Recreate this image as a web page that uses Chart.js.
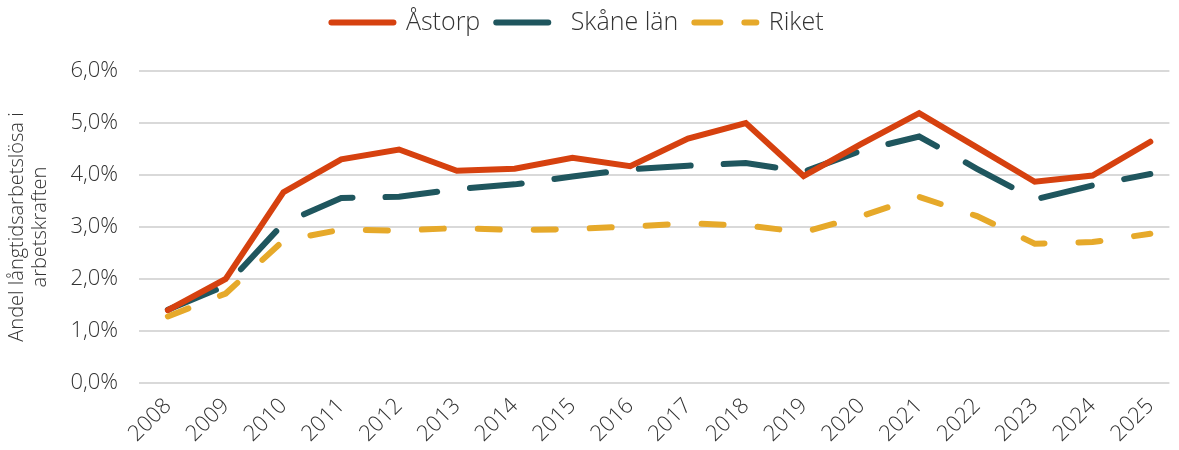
<!DOCTYPE html>
<html>
<head>
<meta charset="utf-8">
<script src="https://cdn.jsdelivr.net/npm/chart.js@4"></script>
<style>
  html, body { margin: 0; padding: 0; background: #fff; }
  #wrap { width: 1179px; height: 450px; position: relative; }
</style>
</head>
<body>
<div id="wrap"><canvas id="myChart"></canvas></div>
<script>
var years = [2008, 2009, 2010, 2011, 2012, 2013, 2014, 2015, 2016,
  2017, 2018, 2019, 2020, 2021, 2022, 2023, 2024, 2025]
var astorp = [1.40, 2.00, 3.67, 4.30, 4.49, 4.08, 4.12, 4.33, 4.17,
  4.70, 5.00, 3.98, 4.60, 5.19, 4.53, 3.87, 3.99, 4.64]
var skane = [1.41, 1.87, 3.07, 3.56, 3.58, 3.73, 3.82, 3.97, 4.11,
  4.18, 4.23, 4.06, 4.47, 4.74, 4.12, 3.53, 3.80, 4.02]
var riket = [1.28, 1.72, 2.74, 2.95, 2.93, 2.98, 2.94, 2.96, 3.01,
  3.07, 3.03, 2.90, 3.21, 3.58, 3.21, 2.68, 2.71, 2.87]
var yTicks = [0, 1, 2, 3, 4, 5, 6]

var fontName = '"Open Sans", Lato, sans-serif'
var textColor = '#333333'
// dash pattern of each legend sample
var legendDash = [[], [52, 33], [26, 24]]

function toPoints(values) {
    return years.map(function (yr, i) { return { x: yr, y: values[i] } })
}

// fixed legend height so the plot starts where it should, and nudge it left a bit
var legendHeight = {
    id: 'legendHeight',
    afterInit: function (chart) {
        var lg = chart.legend
        if (!lg) return
        var origFit = lg.fit
        lg.fit = function () {
            origFit.call(lg)
            lg.height = 77
        }
    },
    afterLayout: function (chart) {
        if (chart.legend) chart.legend.right -= 28
    }
}

document.addEventListener("DOMContentLoaded", function () {
    initChart()
})

function initChart() {
    const data = {
        datasets: [
            {
                label: 'Åstorp',
                data: toPoints(astorp),
                borderColor: '#d6410f',
                backgroundColor: '#d6410f',
                borderWidth: 6,
                borderCapStyle: 'round',
                borderJoinStyle: 'miter',
                pointRadius: 0,
                tension: 0
            },
            {
                label: 'Skåne län',
                data: toPoints(skane),
                borderColor: '#1f565e',
                backgroundColor: '#1f565e',
                borderWidth: 6,
                borderDash: [52, 33],
                borderCapStyle: 'round',
                pointRadius: 0,
                tension: 0
            },
            {
                label: 'Riket',
                data: toPoints(riket),
                borderColor: '#e6a92a',
                backgroundColor: '#e6a92a',
                borderWidth: 6,
                borderDash: [22, 34],
                borderCapStyle: 'round',
                pointRadius: 0,
                tension: 0
            }
        ]
    }

    const options = {
        responsive: false,
        animation: false,
        layout: { padding: { left: 4, right: 0, top: -6, bottom: 0 } },
        plugins: {
            legend: {
                position: 'top',
                labels: {
                    usePointStyle: true,
                    pointStyle: 'line',
                    pointStyleWidth: 62,
                    boxWidth: 62,
                    boxHeight: 6,
                    padding: 16,
                    color: textColor,
                    font: { family: fontName, size: 25, weight: 300 },
                    generateLabels: function (chart) {
                        var items = Chart.defaults.plugins.legend.labels.generateLabels(chart)
                        items.forEach(function (it, i) {
                            it.lineDash = legendDash[i]
                            it.lineCap = 'round'
                            it.pointStyle = 'line'
                        })
                        return items
                    }
                }
            },
            tooltip: { enabled: false }
        },
        scales: {
            x: {
                type: 'linear',
                min: 2007.5,
                max: 2025.33,
                afterBuildTicks: function (axis) {
                    axis.ticks = years.map(function (v) { return { value: v } })
                },
                afterFit: function (axis) { axis.height = 67 },
                grid: { display: false, drawTicks: false },
                border: { display: false },
                ticks: {
                    color: textColor,
                    minRotation: 45,
                    maxRotation: 45,
                    autoSkip: false,
                    padding: 10,
                    font: { family: fontName, size: 22, weight: 300 },
                    callback: function (v) { return String(v) }
                }
            },
            y: {
                min: 0,
                max: 6,
                afterBuildTicks: function (axis) {
                    axis.ticks = yTicks.map(function (v) { return { value: v } })
                },
                afterFit: function (axis) { axis.width = 135 },
                grid: { color: '#d9d9d9', lineWidth: 2, drawTicks: false },
                border: { display: false },
                ticks: {
                    color: textColor,
                    padding: 21,
                    font: { family: fontName, size: 22, weight: 300 },
                    callback: function (v) { return v.toFixed(1).replace('.', ',') + '%' }
                },
                title: {
                    display: true,
                    text: ['Andel långtidsarbetslösa i', 'arbetskraften'],
                    color: textColor,
                    padding: { top: 2, bottom: 4 },
                    font: { family: fontName, size: 20, weight: 300, lineHeight: 1.15 }
                }
            }
        }
    }

    const canvas = document.getElementById("myChart")
    canvas.width = 1179
    canvas.height = 450
    new Chart(canvas, {
        type: 'line',
        data: data,
        options: options,
        plugins: [legendHeight]
    })
}
</script>
</body>
</html>
